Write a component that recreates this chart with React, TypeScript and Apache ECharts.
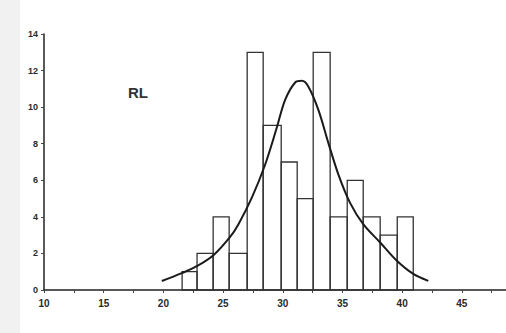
import React, { useEffect, useRef } from "react";
import * as echarts from "echarts";

// Histogram bin edges and counts
const binEdges = [21.57, 22.82, 24.17, 25.51, 27.02, 28.36, 29.87, 31.21, 32.55, 33.97, 35.4, 36.74, 38.16, 39.59, 40.93];
const binCounts = [1, 2, 4, 2, 13, 9, 7, 5, 13, 4, 6, 4, 3, 4];

// Fitted curve points
const curveX = [19.87, 21.54, 22.8, 24.19, 25.59, 26.29, 27.41, 28.52, 29.51, 30.2, 31.04, 31.6, 32.15, 32.99, 33.83, 34.67, 35.65, 36.74, 38.16, 39.56, 40.93, 42.19];
const curveY = [0.49, 0.92, 1.3, 1.9, 2.9, 3.6, 5.05, 6.85, 8.9, 10.4, 11.35, 11.44, 11.12, 9.84, 8.02, 6.3, 4.75, 3.6, 2.6, 1.6, 0.88, 0.5];

const xTickLabels = [10, 15, 20, 25, 30, 35, 40, 45];
const yTickLabels = [0, 2, 4, 6, 8, 10, 12, 14];

const labelFont = "Liberation Sans";

export default function App() {
  const ref = useRef<HTMLDivElement>(null);
  useEffect(() => {
    if (!ref.current) return;
    const chart = echarts.init(ref.current, undefined, { renderer: "svg" });
    const bars = binCounts.map((c, i) => [binEdges[i], binEdges[i + 1], c]);
    const curve = curveX.map((x, i) => [x, curveY[i]]);
    chart.setOption({
      animation: false,
      backgroundColor: "#ffffff",
      graphic: [
        { type: "rect", left: 0, top: 0, shape: { width: 20, height: 333 }, style: { fill: "#f1f1f1" }, z: -10 },
        {
          type: "text",
          left: 128,
          top: 85,
          style: { text: "RL", fontSize: 15, fontWeight: 600, fill: "#333", fontFamily: labelFont },
        },
      ],
      grid: { left: 44, right: 0, top: 34, bottom: 43, containLabel: false },
      xAxis: {
        type: "value",
        min: 10,
        max: 48.7,
        interval: 2.5,
        splitLine: { show: false },
        axisLine: { show: true, lineStyle: { color: "#222", width: 1.5 } },
        axisTick: { show: true, length: 3, lineStyle: { color: "#444" } },
        axisLabel: {
          margin: 8,
          color: "#2a2a2a",
          fontSize: 10,
          fontWeight: 600,
          fontFamily: labelFont,
          showMaxLabel: false,
          formatter: (v: number) => (xTickLabels.indexOf(v) >= 0 ? String(v) : ""),
        },
      },
      yAxis: {
        type: "value",
        min: 0,
        max: 14,
        interval: 2,
        splitLine: { show: false },
        axisLine: { show: true, lineStyle: { color: "#222", width: 1.5 } },
        axisTick: { show: true, length: 3, lineStyle: { color: "#444" } },
        axisLabel: {
          margin: 6,
          color: "#2a2a2a",
          fontSize: 9,
          fontWeight: 600,
          fontFamily: labelFont,
          formatter: (v: number) => (yTickLabels.indexOf(v) >= 0 ? String(v) : ""),
        },
      },
      series: [
        {
          type: "custom",
          data: bars,
          encode: { x: [0, 1], y: 2 },
          renderItem: (params: any, api: any) => {
            const p0 = api.coord([api.value(0), api.value(2)]);
            const p1 = api.coord([api.value(1), 0]);
            return {
              type: "rect",
              shape: { x: p0[0], y: p0[1], width: p1[0] - p0[0], height: p1[1] - p0[1] },
              style: { fill: "none", stroke: "#333", lineWidth: 1.3 },
            };
          },
          z: 2,
        },
        {
          type: "line",
          data: curve,
          smooth: 0.35,
          showSymbol: false,
          symbol: "none",
          lineStyle: { color: "#1a1a1a", width: 2 },
          z: 3,
        },
      ],
    });
    return () => chart.dispose();
  }, []);
  return <div ref={ref} style={{ position: "fixed", left: 0, top: 0, width: 506, height: 333 }} />;
}
